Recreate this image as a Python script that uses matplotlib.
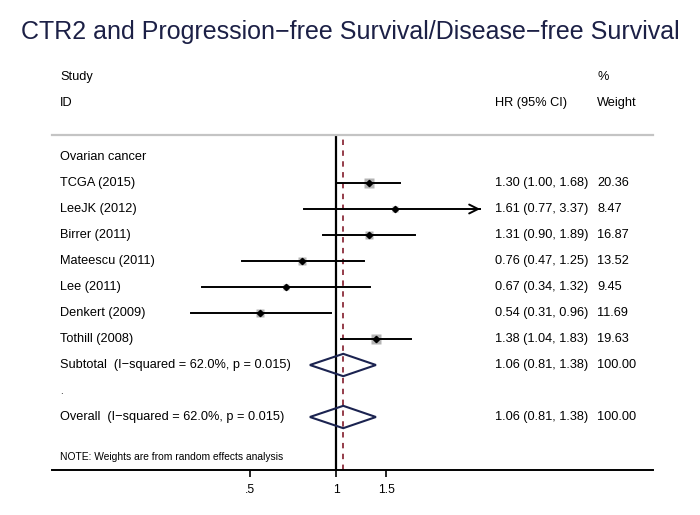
import numpy as np
import matplotlib
matplotlib.use("Agg")
import matplotlib.pyplot as plt
from matplotlib.patches import Polygon

plt.rcParams['font.family'] = ['Liberation Sans', 'DejaVu Sans']

# data
studies = ["TCGA (2015)", "LeeJK (2012)", "Birrer (2011)", "Mateescu (2011)",
           "Lee (2011)", "Denkert (2009)", "Tothill (2008)"]
hr = [1.30, 1.61, 1.31, 0.76, 0.67, 0.54, 1.38]
ci_lo = [1.00, 0.77, 0.90, 0.47, 0.34, 0.31, 1.04]
ci_hi = [1.68, 3.37, 1.89, 1.25, 1.32, 0.96, 1.83]
weights = [20.36, 8.47, 16.87, 13.52, 9.45, 11.69, 19.63]
pooled_hr, pooled_lo, pooled_hi = 1.06, 0.81, 1.38
het_label = "(I\u2212squared = 62.0%, p = 0.015)"
xticks = [0.5, 1, 1.5]
xticklabels = [".5", "1", "1.5"]

CLIP = 3.2  # right edge of the forest area
navy = "#1b2350"
fs = 9.2

fig = plt.figure(figsize=(7, 5.15), dpi=100)
ax = fig.add_axes([52 / 700, 45 / 515, 601 / 700, 335 / 515])
ax.set_xscale('log')
ax.set_xlim(np.exp(-284 / 124), np.exp(317 / 124))
ax.set_ylim(313 / 26, -22 / 26)

for s in ['left', 'right']:
    ax.spines[s].set_visible(False)
ax.spines['top'].set_color('#c4c4c4')
ax.spines['top'].set_linewidth(1.6)
ax.spines['bottom'].set_linewidth(1.4)
ax.set_yticks([])
ax.set_xticks(xticks)
ax.set_xticklabels(xticklabels, fontsize=8.8)
ax.xaxis.set_minor_locator(matplotlib.ticker.NullLocator())
ax.tick_params(axis='x', length=5, width=1.2, pad=5)

ax.axvline(1, color='black', lw=1.6, zorder=2)
ax.axvline(pooled_hr, color='#8c2d3c', lw=1.3, ls=(0, (3, 3)), zorder=2)

tx = ax.get_yaxis_transform()
col_id, col_hr, col_w = 8 / 601, 443 / 601, 545 / 601

ax.text(col_id, -3.08, "Study", transform=tx, fontsize=fs, va='center')
ax.text(col_id, -2.08, "ID", transform=tx, fontsize=fs, va='center')
ax.text(col_hr, -2.08, "HR (95% CI)", transform=tx, fontsize=fs, va='center')
ax.text(col_w, -3.08, "%", transform=tx, fontsize=fs, va='center')
ax.text(col_w, -2.08, "Weight", transform=tx, fontsize=fs, va='center')
ax.text(col_id, 0, "Ovarian cancer", transform=tx, fontsize=fs, va='center')

for i, name in enumerate(studies):
    y = i + 1
    ax.text(col_id, y, name, transform=tx, fontsize=fs, va='center')
    ax.text(col_hr, y, f"{hr[i]:.2f} ({ci_lo[i]:.2f}, {ci_hi[i]:.2f})",
            transform=tx, fontsize=fs, va='center')
    ax.text(col_w, y, f"{weights[i]:.2f}", transform=tx, fontsize=fs, va='center')
    side = max(2.78 * np.sqrt(weights[i]) - 2.5, 0)
    ax.plot(hr[i], y, marker='s', ms=side * 0.72, color='#b4b4b4', mec='none', zorder=3)
    if ci_hi[i] > CLIP:
        ax.plot([ci_lo[i], CLIP], [y, y], color='black', lw=1.4, zorder=4)
        ax.annotate("", xy=(CLIP, y), xytext=(CLIP * 0.97, y),
                    arrowprops=dict(arrowstyle='->', color='black', lw=1.4,
                                    mutation_scale=16), zorder=4)
    else:
        ax.plot([ci_lo[i], ci_hi[i]], [y, y], color='black', lw=1.4, zorder=4)
    ax.plot(hr[i], y, marker='D', ms=3.2, color='black', zorder=5)

for y, label in [(8, "Subtotal  " + het_label), (10, "Overall  " + het_label)]:
    ax.text(col_id, y, label, transform=tx, fontsize=fs, va='center')
    ax.text(col_hr, y, f"{pooled_hr:.2f} ({pooled_lo:.2f}, {pooled_hi:.2f})",
            transform=tx, fontsize=fs, va='center')
    ax.text(col_w, y, f"{100:.2f}", transform=tx, fontsize=fs, va='center')
    h = 0.43
    ax.add_patch(Polygon([(pooled_lo, y), (pooled_hr, y - h), (pooled_hi, y),
                          (pooled_hr, y + h)], closed=True, fill=False,
                         edgecolor=navy, lw=1.5, zorder=4))

ax.text(col_id, 9, ".", transform=tx, fontsize=7, va='center')
ax.text(col_id, 11.54, "NOTE: Weights are from random effects analysis",
        transform=tx, fontsize=7.4, va='center')

fig.text(0.501, 1 - 32 / 515,
         "CTR2 and Progression\u2212free Survival/Disease\u2212free Survival",
         ha='center', va='center', fontsize=18, color='#1c2046')

fig.savefig("out.png", dpi=100)
